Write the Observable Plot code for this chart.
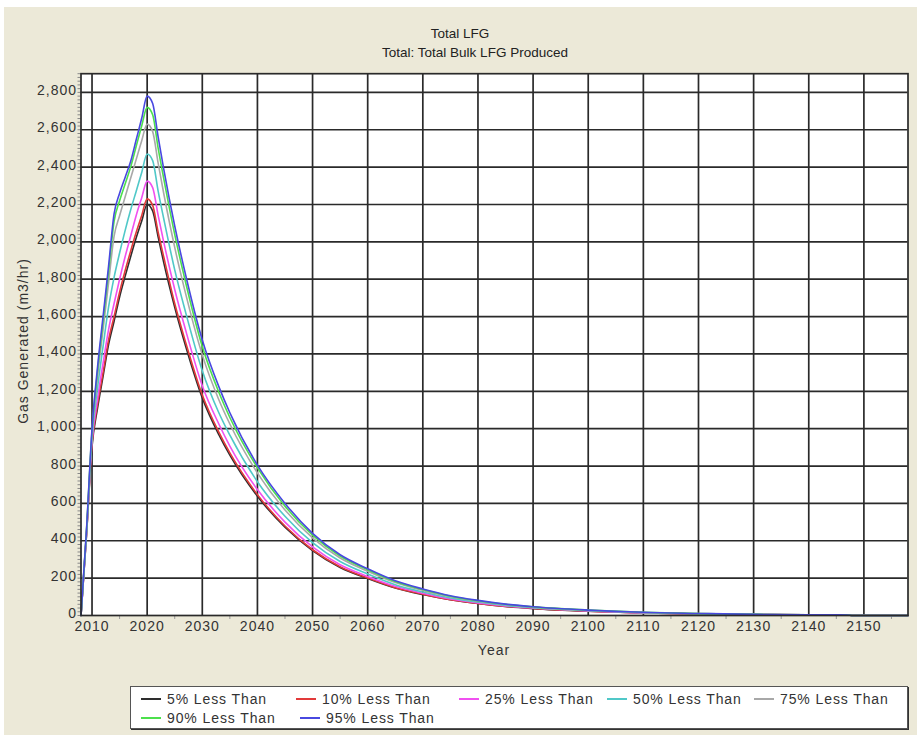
<!DOCTYPE html>
<html>
<head>
<meta charset="utf-8">
<script src="https://cdn.jsdelivr.net/npm/d3@7"></script>
<script src="https://cdn.jsdelivr.net/npm/@observablehq/plot@0.6"></script>
<style>
  body { margin: 0; background: #ffffff; font-family: "Liberation Sans", Arial, sans-serif; color: #222; }
  #panel { position: absolute; left: 4px; top: 7px; width: 913px; height: 728px; background: #ece9d8; }
  .t { position: absolute; white-space: nowrap; transform: translate(-50%, -50%); font-size: 13.5px; color: #222; }
  #ylab { position: absolute; left: 23px; top: 341px; white-space: nowrap; font-size: 14px; letter-spacing: 1px; color: #333;
          transform: translate(-50%, -50%) rotate(-90deg); }
  #chart { position: absolute; left: 0; top: 60px; }
  #legend { position: absolute; left: 130px; top: 686px; width: 776px; height: 41px; background: #fff;
            border: 1px solid #555; box-shadow: 1px 1px 0 #333; }
  .li { position: absolute; height: 18px; display: flex; align-items: center; font-size: 14px; letter-spacing: 0.9px; color: #333; white-space: nowrap; }
  .sw { display: inline-block; width: 20px; height: 2px; margin-right: 6px; }
</style>
</head>
<body>
<div id="panel"></div>
<div class="t" style="left:460px; top:33px;">Total LFG</div>
<div class="t" style="left:475px; top:52px;">Total: Total Bulk LFG Produced</div>
<div id="ylab">Gas Generated (m3/hr)</div>
<div id="chart"></div>
<div class="t" style="left:494px; top:650px; font-size:14px; letter-spacing:1px; color:#333;">Year</div>
<div id="legend"></div>
<script>
// ---- data ----
const years = [2008, 2009, 2010, 2011, 2012, 2013, 2014, 2015, 2016, 2017, 2018, 2019, 2020,
  2021, 2022, 2023, 2025, 2027, 2030, 2033, 2035, 2040, 2045, 2050, 2055, 2060, 2065, 2070,
  2075, 2080, 2085, 2090, 2100, 2110, 2120, 2130, 2140, 2147, 2148, 2158];

const seriesNames = ["5% Less Than", "10% Less Than", "25% Less Than", "50% Less Than",
  "75% Less Than", "90% Less Than", "95% Less Than"];
const seriesColors = ["#2e2e2e", "#e23a3a", "#f050f0", "#50c8c8", "#a8a8a8", "#4ce04c", "#4848e0"];

const p05 = [0, 430, 905, 1110, 1280, 1450, 1575, 1705, 1815, 1920, 2020, 2110, 2200,
  2165, 2025, 1890, 1650, 1440, 1165, 968, 858, 638, 473, 348, 257, 198, 147, 112,
  84, 64, 48, 37, 23, 14, 8, 5, 3, 2, 0, 0];
const p10 = [0, 435, 920, 1130, 1300, 1475, 1600, 1730, 1845, 1950, 2050, 2140, 2230,
  2195, 2050, 1920, 1670, 1460, 1180, 981, 870, 647, 479, 352, 261, 201, 149, 114,
  85, 65, 49, 38, 23, 14, 8, 5, 3, 2, 0, 0];
const p25 = [0, 440, 935, 1160, 1350, 1530, 1670, 1800, 1920, 2030, 2140, 2235, 2325,
  2290, 2140, 2000, 1745, 1525, 1230, 1025, 907, 674, 500, 367, 272, 209, 156, 119,
  88, 67, 51, 40, 24, 14, 9, 5, 3, 2, 0, 0];
const p50 = [0, 445, 955, 1220, 1440, 1650, 1810, 1940, 2060, 2170, 2270, 2370, 2470,
  2435, 2270, 2125, 1850, 1620, 1310, 1085, 965, 716, 531, 390, 289, 222, 165, 126,
  94, 72, 54, 42, 26, 15, 9, 6, 3, 2, 0, 0];
const p75 = [0, 450, 975, 1280, 1530, 1780, 2030, 2140, 2240, 2340, 2440, 2540, 2630,
  2590, 2420, 2260, 1970, 1720, 1395, 1155, 1025, 763, 565, 416, 308, 237, 176, 134,
  100, 76, 58, 45, 28, 16, 10, 6, 4, 3, 0, 0];
const p90 = [0, 455, 990, 1310, 1575, 1840, 2110, 2220, 2310, 2400, 2510, 2620, 2720,
  2680, 2500, 2340, 2040, 1780, 1440, 1195, 1060, 790, 585, 430, 318, 245, 182, 139,
  103, 79, 60, 46, 29, 17, 10, 6, 4, 3, 0, 0];
const p95 = [0, 460, 1000, 1330, 1600, 1870, 2150, 2260, 2345, 2430, 2545, 2660, 2780,
  2740, 2560, 2390, 2085, 1820, 1475, 1225, 1085, 805, 600, 440, 325, 250, 186, 142,
  106, 81, 61, 47, 29, 17, 11, 6, 4, 3, 0, 0];

const seriesValues = [p05, p10, p25, p50, p75, p90, p95];

const xTicks = [2010, 2020, 2030, 2040, 2050, 2060, 2070, 2080, 2090, 2100, 2110, 2120, 2130, 2140, 2150];
const xMinorTicks = [2015, 2025, 2035, 2045, 2055, 2065, 2075, 2085, 2095, 2105, 2115, 2125, 2135, 2145, 2155];
const yTicks = [0, 200, 400, 600, 800, 1000, 1200, 1400, 1600, 1800, 2000, 2200, 2400, 2600, 2800];
const yMinorTicks = d3.range(0, 2901, 20);

// ---- build line marks ----
const lineMarks = seriesValues.map((vals, i) =>
  Plot.line(years.map((yr, j) => ({year: yr, value: vals[j]})), {
    x: "year", y: "value", stroke: seriesColors[i], strokeWidth: 1.6, curve: "monotone-x"
  })
);

const chart = Plot.plot({
  width: 919,
  height: 600,
  marginLeft: 80.5,
  marginRight: 11.5,
  marginTop: 13.2,
  marginBottom: 45,
  style: {background: "transparent", fontFamily: "Liberation Sans, Arial, sans-serif", fontSize: "14px", color: "#333", letterSpacing: "1px"},
  x: {domain: [2008, 2158]},
  y: {domain: [0, 2900]},
  marks: [
    Plot.frame({fill: "white", stroke: null}),
    Plot.ruleX(xTicks, {stroke: "#2a2a2a", strokeWidth: 1.7}),
    Plot.ruleY(yTicks.filter(d => d > 0), {stroke: "#2a2a2a", strokeWidth: 1.7}),
    Plot.axisY(yMinorTicks, {tickSize: 3, tickFormat: () => "", label: null, stroke: "#888"}),
    Plot.axisY(yTicks, {tickSize: 0, tickPadding: 4, tickFormat: d3.format(","), label: null, fill: "#333", dy: -2}),
    Plot.axisX(xMinorTicks, {tickSize: 4, tickFormat: () => "", label: null, stroke: "#999"}),
    Plot.axisX(xTicks, {tickSize: 0, tickPadding: 6, tickFormat: d => String(d), label: null, fill: "#333"}),
    ...lineMarks,
    Plot.frame({stroke: "#2a2a2a", strokeWidth: 1.7})
  ]
});
document.getElementById("chart").appendChild(chart);

// ---- legend ----
const legendPos = [[10, 3], [165, 3], [328, 3], [476, 3], [623, 3], [10, 22], [169, 22]];
const legend = document.getElementById("legend");
seriesNames.forEach((name, i) => {
  const item = document.createElement("div");
  item.className = "li";
  item.style.left = legendPos[i][0] + "px";
  item.style.top = legendPos[i][1] + "px";
  const sw = document.createElement("span");
  sw.className = "sw";
  sw.style.background = seriesColors[i];
  item.appendChild(sw);
  item.appendChild(document.createTextNode(name));
  legend.appendChild(item);
});
</script>
</body>
</html>
